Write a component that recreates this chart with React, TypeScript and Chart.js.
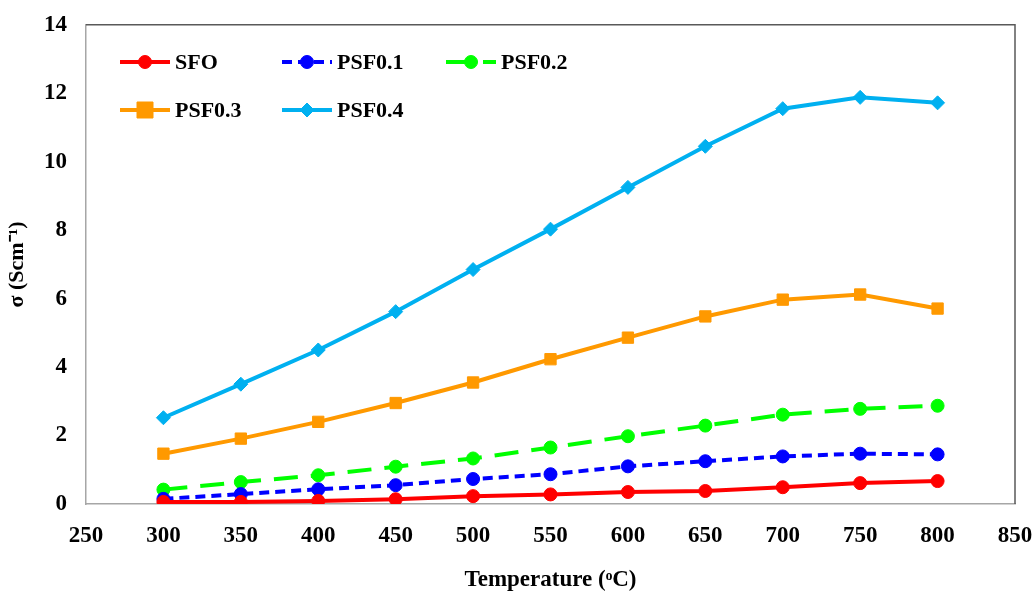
import React, { useEffect, useRef } from "react";
import { Chart, registerables } from "chart.js";

Chart.register(...registerables);

const temperatures = [300, 350, 400, 450, 500, 550, 600, 650, 700, 750, 800];
const sfo = [0.06, 0.06, 0.09, 0.14, 0.23, 0.28, 0.35, 0.38, 0.49, 0.61, 0.67];
const psf01 = [0.15, 0.29, 0.43, 0.55, 0.73, 0.87, 1.1, 1.25, 1.39, 1.47, 1.45];
const psf02 = [0.42, 0.64, 0.84, 1.09, 1.33, 1.65, 1.98, 2.29, 2.61, 2.78, 2.87];
const psf03 = [1.47, 1.91, 2.4, 2.95, 3.55, 4.23, 4.86, 5.48, 5.97, 6.12, 5.71];
const psf04 = [2.52, 3.5, 4.5, 5.62, 6.85, 8.03, 9.25, 10.45, 11.55, 11.88, 11.72];

const FONT = "'Liberation Serif', 'Times New Roman', serif";

type LegendItem = { ds: number; x: number; y: number };
const legendLayout: LegendItem[] = [
  { ds: 0, x: 120, y: 62 },
  { ds: 1, x: 282, y: 62 },
  { ds: 2, x: 446, y: 62 },
  { ds: 3, x: 120, y: 110 },
  { ds: 4, x: 282, y: 110 },
];

function drawPointShape(ctx: CanvasRenderingContext2D, style: string, r: number, x: number, y: number) {
  ctx.beginPath();
  if (style === "rect") {
    ctx.rect(x - r, y - r, 2 * r, 2 * r);
  } else if (style === "rectRot") {
    ctx.moveTo(x, y - r);
    ctx.lineTo(x + r, y);
    ctx.lineTo(x, y + r);
    ctx.lineTo(x - r, y);
    ctx.closePath();
  } else {
    ctx.arc(x, y, r, 0, Math.PI * 2);
  }
  ctx.fill();
  ctx.stroke();
}

const insideLegend = {
  id: "insideLegend",
  afterDraw(chart: any) {
    const ctx = chart.ctx;
    ctx.save();
    for (const it of legendLayout) {
      const ds = chart.data.datasets[it.ds];
      const len = 50;
      ctx.strokeStyle = ds.borderColor;
      ctx.lineWidth = ds.borderWidth;
      ctx.setLineDash(ds.borderDash || []);
      ctx.beginPath();
      ctx.moveTo(it.x, it.y);
      ctx.lineTo(it.x + len, it.y);
      ctx.stroke();
      ctx.setLineDash([]);
      ctx.fillStyle = ds.pointBackgroundColor;
      ctx.strokeStyle = ds.pointBorderColor;
      ctx.lineWidth = 1;
      drawPointShape(ctx, ds.pointStyle, ds.pointRadius, it.x + len / 2, it.y);
      ctx.fillStyle = "#000";
      ctx.font = `bold 22px ${FONT}`;
      ctx.textBaseline = "middle";
      ctx.textAlign = "left";
      ctx.fillText(ds.label, it.x + len + 5, it.y + 1);
    }
    ctx.restore();
  },
};

const frameBox = {
  id: "frameBox",
  beforeDatasetsDraw(chart: any) {
    const { ctx, chartArea: a } = chart;
    ctx.save();
    ctx.strokeStyle = "#595959";
    ctx.lineWidth = 1.5;
    ctx.beginPath();
    ctx.moveTo(a.left, a.top);
    ctx.lineTo(a.right, a.top);
    ctx.lineTo(a.right, a.bottom);
    ctx.stroke();
    ctx.restore();
  },
};

export default function App() {
  const ref = useRef<HTMLCanvasElement>(null);
  useEffect(() => {
    document.body.style.margin = "0";
    const mk = (label: string, data: number[], color: string, style: string, radius: number, dash?: number[]) => ({
      label,
      data,
      borderColor: color,
      backgroundColor: color,
      pointBackgroundColor: color,
      pointBorderColor: color,
      pointStyle: style,
      pointRadius: radius,
      pointBorderWidth: 1,
      borderWidth: 4,
      borderDash: dash,
      tension: 0,
    });
    const chart = new Chart(ref.current!, {
      type: "line",
      data: {
        labels: temperatures,
        datasets: [
          mk("SFO", sfo, "#FF0000", "circle", 6.5),
          mk("PSF0.1", psf01, "#0000FF", "circle", 6.5, [10, 6]),
          mk("PSF0.2", psf02, "#00FF00", "circle", 6.5, [24, 13]),
          mk("PSF0.3", psf03, "#FF9900", "rect", 8),
          mk("PSF0.4", psf04, "#00B0F0", "rectRot", 7),
        ] as any,
      },
      options: {
        animation: false,
        responsive: false,
        maintainAspectRatio: false,
        layout: { padding: { top: 14, right: 21, left: 0, bottom: 0 } },
        plugins: { legend: { display: false }, tooltip: { enabled: false } },
        scales: {
          x: {
            type: "linear",
            min: 250,
            max: 850,
            ticks: { stepSize: 50, color: "#000", font: { family: FONT, size: 23, weight: "bold" }, padding: 10 },
            grid: { display: false },
            border: { display: true, color: "#A6A6A6", width: 1.5 },
            title: {
              display: true,
              text: "Temperature (ᵒC)",
              color: "#000",
              font: { family: FONT, size: 23, weight: "bold" },
              padding: { top: 10, bottom: 0 },
            },
            afterFit: (s: any) => {
              s.height = 90;
              s.paddingRight = 0;
              s.paddingLeft = 0;
            },
          },
          y: {
            min: 0,
            max: 14,
            ticks: { stepSize: 2, color: "#000", font: { family: FONT, size: 23, weight: "bold" }, padding: 11 },
            grid: { display: false },
            border: { display: true, color: "#A6A6A6", width: 1.5 },
            title: {
              display: true,
              text: "σ (Scm⁻¹)",
              color: "#000",
              font: { family: FONT, size: 22, weight: "bold" },
              padding: { top: 4, bottom: 4 },
            },
            afterFit: (s: any) => {
              s.width = 86;
            },
          },
        },
      } as any,
      plugins: [frameBox, insideLegend],
    });
    return () => chart.destroy();
  }, []);
  return (
    <div style={{ width: 1036, height: 594 }}>
      <canvas ref={ref} width={1036} height={594} style={{ display: "block" }} />
    </div>
  );
}
